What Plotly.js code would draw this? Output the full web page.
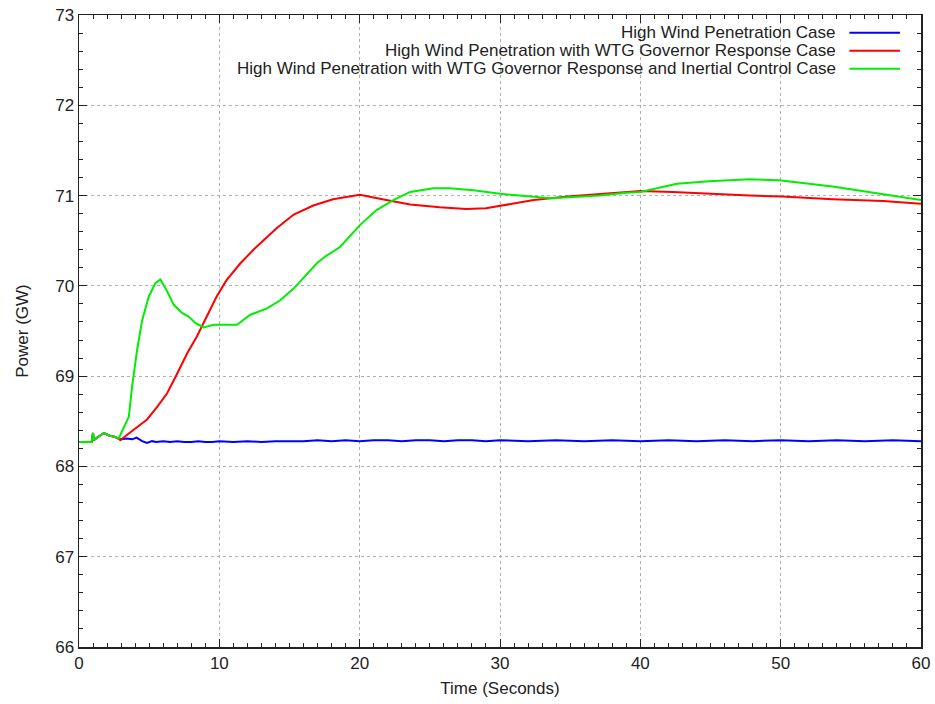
<!DOCTYPE html>
<html>
<head>
<meta charset="utf-8">
<script src="https://cdn.plot.ly/plotly-3.0.1.min.js"></script>
<style>html,body{margin:0;padding:0;background:#fff;}#chart{width:935px;height:704px;}</style>
</head>
<body>
<div id="chart"></div>
<script>
// ---- data ----
const seriesNames = [
  "High Wind Penetration Case",
  "High Wind Penetration with WTG Governor Response Case",
  "High Wind Penetration with WTG Governor Response and Inertial Control Case"
];
const seriesColors = ["#0000ff", "#ff0000", "#00ee00"];

const blueT = [0,0.9,1.0,1.05,1.3,1.77,2.2,2.5,2.8,3.0,3.4,3.8,4.1,4.5,4.85,5.2,5.5,6.0,6.5,7,7.5,8,8.5,9,9.5,10,11,12,13,14,15,16,17,18,19,20,21,22,23,24,25,26,27,28,29,30,32,34,36,38,40,42,44,46,48,50,52,54,56,58,60];
const blueV = [68.27,68.27,68.37,68.29,68.32,68.37,68.34,68.33,68.31,68.30,68.31,68.30,68.32,68.28,68.26,68.28,68.27,68.28,68.27,68.28,68.27,68.27,68.28,68.27,68.27,68.28,68.27,68.28,68.27,68.28,68.28,68.28,68.29,68.28,68.29,68.28,68.29,68.29,68.28,68.29,68.29,68.28,68.29,68.29,68.28,68.29,68.28,68.29,68.28,68.29,68.28,68.29,68.28,68.29,68.28,68.29,68.28,68.29,68.28,68.29,68.28];

const redT = [0,0.9,1.0,1.05,1.3,1.77,2.2,2.5,2.8,2.95,3.43,4.14,4.85,5.57,6.28,7.0,7.7,8.4,9.1,9.8,10.5,11.5,12.5,13.4,14.1,15.3,16.7,18.1,19.6,20.0,21.9,23.6,25.7,27.6,29.0,30.5,32.4,34.8,37.1,39.0,40,42.3,44.9,47.8,50.1,53.7,57.3,60];
const redV = [68.27,68.27,68.37,68.29,68.32,68.37,68.34,68.33,68.31,68.29,68.35,68.44,68.52,68.66,68.81,69.03,69.25,69.44,69.66,69.88,70.06,70.25,70.41,70.54,70.64,70.79,70.89,70.96,71.0,71.01,70.95,70.90,70.87,70.85,70.86,70.90,70.95,70.99,71.02,71.04,71.05,71.04,71.02,71.0,70.99,70.96,70.94,70.91];

const greenT = [0,0.9,1.0,1.05,1.3,1.77,2.2,2.5,2.83,3.31,3.55,3.78,4.14,4.5,4.97,5.44,5.8,6.28,6.75,7.34,7.81,8.29,8.88,9.6,10.5,11.26,12.2,13.4,14.34,15.29,16.95,17.5,18.6,20.0,21.2,22.4,23.6,25.25,26.4,28.1,30,31.9,33.6,35.9,37.1,39,40,42.6,44.9,47.8,49.9,53.7,57.3,60];
const greenV = [68.27,68.27,68.37,68.29,68.32,68.37,68.34,68.33,68.31,68.46,68.55,68.88,69.29,69.62,69.88,70.03,70.07,69.94,69.79,69.70,69.66,69.59,69.54,69.57,69.57,69.57,69.68,69.75,69.84,69.97,70.25,70.32,70.43,70.67,70.84,70.95,71.04,71.08,71.08,71.06,71.02,70.99,70.97,70.99,71.0,71.03,71.04,71.13,71.16,71.18,71.17,71.10,71.01,70.95];

const xTicks = [0,10,20,30,40,50,60];
const yTicks = [66,67,68,69,70,71,72,73];

// ---- chart ----
const xs = [blueT, redT, greenT];
const ys = [blueV, redV, greenV];
const traces = xs.map((x, i) => ({
  x: x, y: ys[i], type: "scatter", mode: "lines", name: seriesNames[i],
  line: {color: seriesColors[i], width: 2}, showlegend: false, hoverinfo: "skip"
}));

const fnt = {family: "Liberation Sans, Arial, sans-serif", size: 17, color: "#222"};
const axisCommon = {
  showline: true, linecolor: "#222", linewidth: 1.5, mirror: "allticks",
  ticks: "inside", ticklen: 8, tickcolor: "#222", tickwidth: 1,
  showgrid: true, gridcolor: "#b0b0b0", griddash: "dot", gridwidth: 1,
  zeroline: false, tickfont: fnt, fixedrange: true
};

// legend (gnuplot style: text right, sample on the right)
const annotations = [];
const shapes = [];
const legTop = 0.972, legStep = 0.0285;
seriesNames.forEach((n, i) => {
  const yy = legTop - i * legStep;
  annotations.push({xref: "paper", yref: "paper", x: 0.901, y: yy, text: n, showarrow: false,
    xanchor: "right", yanchor: "middle", font: fnt});
  shapes.push({type: "line", xref: "paper", yref: "paper", x0: 0.915, x1: 0.975, y0: yy, y1: yy,
    line: {color: seriesColors[i], width: 2}});
});

const layout = {
  width: 935, height: 704,
  margin: {l: 79, r: 14, t: 15, b: 57},
  paper_bgcolor: "#fff", plot_bgcolor: "#fff",
  font: fnt,
  xaxis: Object.assign({}, axisCommon, {
    range: [0, 60], tickvals: xTicks, ticktext: xTicks.map(String),
    minor: {dtick: 1, tick0: 0, ticks: "inside", ticklen: 4, tickcolor: "#222", showgrid: false},
    title: {text: "Time (Seconds)", font: fnt, standoff: 10}
  }),
  yaxis: Object.assign({}, axisCommon, {
    range: [66, 73], tickvals: yTicks, ticktext: yTicks.map(String),
    minor: {dtick: 0.2, tick0: 66, ticks: "inside", ticklen: 4, tickcolor: "#222", showgrid: false},
    title: {text: "Power (GW)", font: fnt, standoff: 22}
  }),
  annotations: annotations,
  shapes: shapes
};

Plotly.newPlot("chart", traces, layout, {displayModeBar: false, staticPlot: true});
</script>
</body>
</html>
